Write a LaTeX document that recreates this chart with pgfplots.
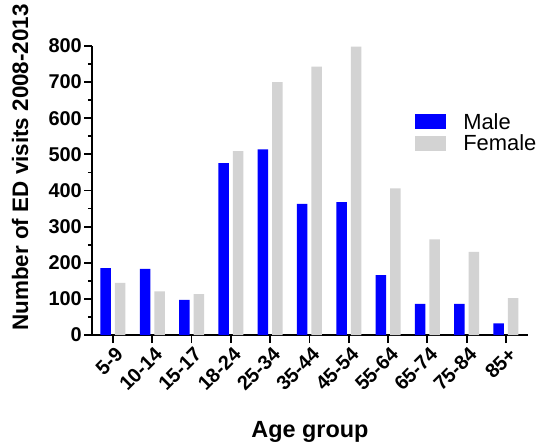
\documentclass[border=0pt]{standalone}
\usepackage{fontspec}
\setmainfont{Liberation Sans}
\usepackage{pgfplots}
\pgfplotsset{compat=1.18}
\definecolor{maleblue}{RGB}{0,0,255}
\definecolor{femalegray}{RGB}{211,211,211}
\begin{document}
\begin{tikzpicture}
\begin{axis}[
  at={(0,0)}, anchor=south west,
  scale only axis, width=436bp, height=289bp,
  xmin=-0.534, xmax=10.56, ymin=0, ymax=800,
  axis lines*=left,
  axis line style={line width=1.8bp},
  every tick/.style={line width=1.8bp, black},
  xtick={0,...,10},
  xticklabels={5-9,10-14,15-17,18-24,25-34,35-44,45-54,55-64,65-74,75-84,85+},
  ytick={0,100,...,800},
  minor y tick num=1,
  tick align=outside,
  major tick length=8bp,
  minor tick length=4bp,
  /pgf/number format/assume math mode=true,
  ticklabel style={font=\fontsize{20}{20}\selectfont\bfseries},
  xticklabel style={rotate=45, anchor=north east, inner sep=1bp, yshift=-2bp},
  yticklabel style={inner sep=2bp},
  xlabel={Age group},
  ylabel={Number of ED visits 2008-2013},
  xlabel style={font=\fontsize{23.5}{23.5}\selectfont\bfseries, at={(axis description cs:0.5,-0.353)}, anchor=base},
  ylabel style={font=\fontsize{22.5}{22.5}\selectfont\bfseries, at={(axis description cs:-0.165,0.58)}, anchor=center, rotate=0},
  legend style={at={(axis description cs:0.741,0.775)}, anchor=north west, draw=none, fill=none,
    font=\fontsize{22}{22}\selectfont, inner sep=0pt, row sep=0bp,
    /tikz/every odd column/.append style={column sep=15bp}},
  legend cell align=left,
  clip=false,
]
\addplot[draw=none, fill=maleblue, ybar, bar width=10.5bp, bar shift=-7.25bp,
  legend image code/.code={\fill[maleblue] (0bp,-7.5bp) rectangle (31bp,7.5bp);}]
  coordinates {(0,185) (1,183) (2,97) (3,476) (4,514) (5,363) (6,368) (7,166) (8,86) (9,86) (10,32)};
\addlegendentry{Male}
\addplot[draw=none, fill=femalegray, ybar, bar width=10.5bp, bar shift=7.25bp,
  legend image code/.code={\fill[femalegray] (0bp,-7.5bp) rectangle (31bp,7.5bp);}]
  coordinates {(0,144) (1,121) (2,113) (3,509) (4,700) (5,743) (6,798) (7,406) (8,265) (9,230) (10,102)};
\addlegendentry{Female}
\end{axis}
\pgfresetboundingbox
\path (-92bp,-109bp) rectangle (447bp,335bp);
\end{tikzpicture}
\end{document}
